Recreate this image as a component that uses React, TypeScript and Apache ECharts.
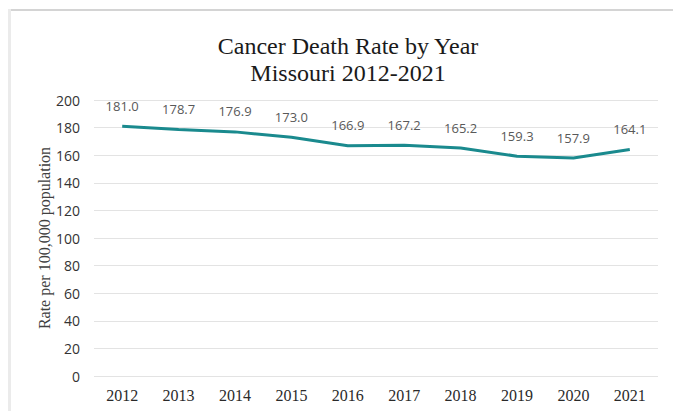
import React, { useEffect, useRef } from "react";
import * as echarts from "echarts";

const years = ["2012", "2013", "2014", "2015", "2016", "2017", "2018", "2019", "2020", "2021"];
const rates = [181.0, 178.7, 176.9, 173.0, 166.9, 167.2, 165.2, 159.3, 157.9, 164.1];
const titleLines = ["Cancer Death Rate by Year", "Missouri 2012-2021"];
const yAxisTitle = "Rate per 100,000 population";

export default function App() {
  const ref = useRef<HTMLDivElement>(null);
  useEffect(() => {
    document.body.style.margin = "0";
    const chart = echarts.init(ref.current!, null, { renderer: "svg" });
    chart.setOption({
      animation: false,
      backgroundColor: "#ffffff",
      title: {
        text: titleLines.join("\n"),
        left: 343,
        textAlign: "center",
        top: 27,
        textStyle: {
          fontFamily: "Liberation Serif",
          fontSize: 24,
          fontWeight: "normal",
          lineHeight: 27,
          color: "#1a1a1a",
        },
      },
      graphic: [
        { type: "rect", shape: { x: 10, y: 9, width: 663, height: 2 }, style: { fill: "#d4d4d4" } },
        { type: "rect", shape: { x: 8, y: 9, width: 3, height: 402 }, style: { fill: "#ebebeb" } },
      ],
      grid: { left: 94, right: 15, top: 100, bottom: 35 },
      xAxis: {
        type: "category",
        data: years,
        axisLine: { show: false },
        axisTick: { show: false },
        axisLabel: {
          margin: 11,
          fontFamily: "Liberation Serif",
          fontSize: 16,
          color: "#2a2a2a",
        },
      },
      yAxis: {
        type: "value",
        min: 0,
        max: 200,
        interval: 20,
        name: yAxisTitle,
        nameLocation: "middle",
        nameGap: 42,
        nameMoveOverlap: false,
        nameTextStyle: {
          fontFamily: "Liberation Serif",
          fontSize: 16,
          color: "#404040",
        },
        axisLine: { show: false },
        axisTick: { show: false },
        axisLabel: {
          margin: 14,
          fontFamily: "Open Sans",
          fontSize: 14,
          color: "#333333",
        },
        splitLine: { lineStyle: { color: "#e3e3e3", width: 1 } },
      },
      series: [
        {
          type: "line",
          data: rates,
          symbol: "circle",
          symbolSize: 0,
          showSymbol: true,
          lineStyle: { color: "#1a8a8e", width: 3 },
          itemStyle: { color: "#1a8a8e" },
          label: {
            show: true,
            position: "top",
            distance: 14,
            fontFamily: "Open Sans",
            fontSize: 13,
            color: "#595959",
            formatter: (p: any) => Number(p.value).toFixed(1),
          },
        },
      ],
    });
    return () => chart.dispose();
  }, []);
  return <div ref={ref} style={{ position: "absolute", left: 0, top: 0, width: 673, height: 411 }} />;
}
